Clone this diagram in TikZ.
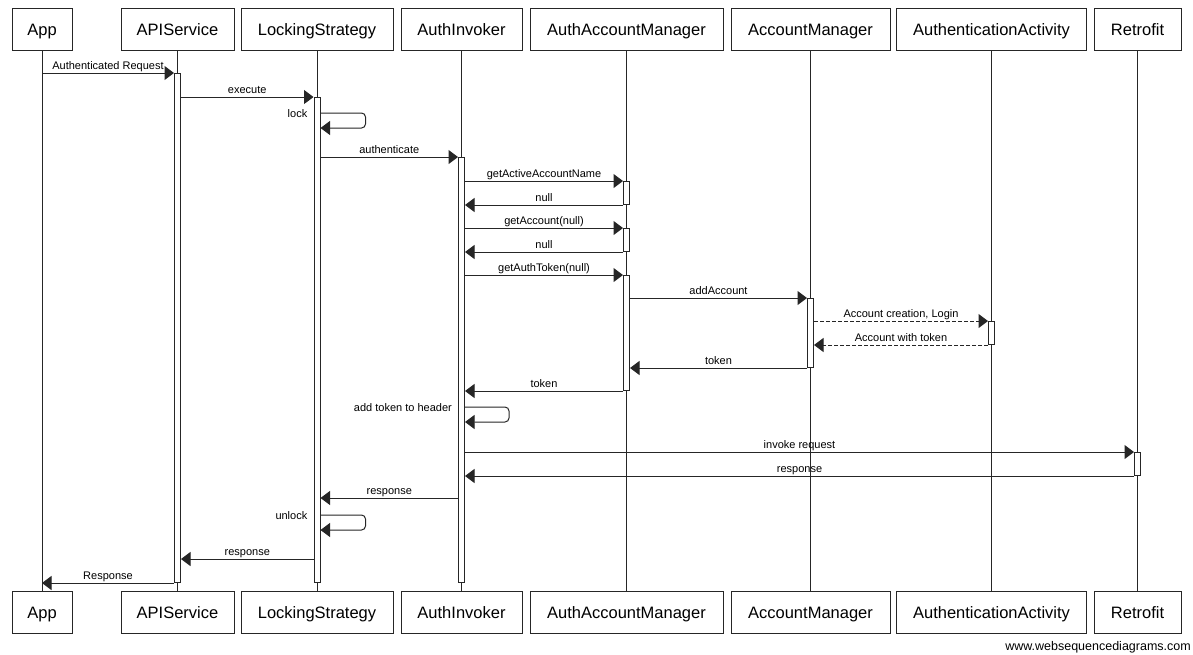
\documentclass[tikz,border=0pt]{standalone}
\usepackage{fontspec}
\setmainfont{Liberation Sans}
\usetikzlibrary{arrows.meta}
\begin{document}
\begin{tikzpicture}[x=1pt,y=-1pt,
  ink/.style={draw=black!85, line width=1pt},
  part/.style={ink, fill=white, minimum height=42pt, inner sep=0pt,
    text height=11.8pt, text depth=0pt, font=\fontsize{16.5}{19}\selectfont},
  life/.style={ink},
  act/.style={ink, fill=white, minimum width=6pt, inner sep=0pt, anchor=north},
  msg/.style={ink, -{Triangle[length=9.5pt,width=14pt]}},
  reply/.style={msg, dash pattern=on 4pt off 2pt},
  lbl/.style={font=\fontsize{11}{13}\selectfont, inner sep=0pt},
  on/.style={lbl, midway, anchor=base, yshift=3.5pt},
  selflbl/.style={lbl, anchor=base east, xshift=-6pt},
]
\fill[white] (0,0) rectangle (1193,654);
\useasboundingbox (0,0) rectangle (1193,654);

% participants, top and bottom
\foreach \n/\x/\w/\t in {App/42/60/App, API/177.5/113/APIService,
    LS/317/152/LockingStrategy, AI/461.5/121/AuthInvoker,
    AAM/626.5/193/AuthAccountManager, AM/810.5/159/AccountManager,
    AA/991.5/190/AuthenticationActivity, R/1137.5/87/Retrofit}{
  \node[part, minimum width=\w pt] (t\n) at (\x,29.5) {\t};
  \node[part, minimum width=\w pt] (b\n) at (\x,612.3) {\t};
  \draw[life] (t\n.south) -- (b\n.north);
}

% activation bars
\node[act, minimum height=509pt] (aAPI)  at (tAPI |- 0,73)  {};
\node[act, minimum height=485pt] (aLS)   at (tLS |- 0,97)   {};
\node[act, minimum height=425pt] (aAI)   at (tAI |- 0,157)  {};
\node[act, minimum height=23pt]  (aAAM1) at (tAAM |- 0,181) {};
\node[act, minimum height=23pt]  (aAAM2) at (tAAM |- 0,228) {};
\node[act, minimum height=115pt] (aAAM3) at (tAAM |- 0,275) {};
\node[act, minimum height=69pt]  (aAM)   at (tAM |- 0,298)  {};
\node[act, minimum height=23pt]  (aAA)   at (tAA |- 0,321)  {};
\node[act, minimum height=23pt]  (aR)    at (tR |- 0,452)   {};

% messages
\draw[msg] (tApp |- aAPI.north) -- node[on]{Authenticated Request} (aAPI.north west);
\draw[msg] (aAPI.east |- aLS.north) -- node[on]{execute} (aLS.north west);
\draw[msg, rounded corners=4pt] (aLS.east |- 0,113) -- ++(45,0) -- ++(0,15) -- (aLS.east |- 0,128);
\node[selflbl] (lLock) at (aLS.west |- 0,117) {lock};
\draw[msg] (aLS.east |- aAI.north) -- node[on]{authenticate} (aAI.north west);
\draw[msg] (aAI.east |- aAAM1.north) -- node[on]{getActiveAccountName} (aAAM1.north west);
\draw[msg] (aAAM1.south west) -- node[on]{null} (aAI.east |- aAAM1.south);
\draw[msg] (aAI.east |- aAAM2.north) -- node[on]{getAccount(null)} (aAAM2.north west);
\draw[msg] (aAAM2.south west) -- node[on]{null} (aAI.east |- aAAM2.south);
\draw[msg] (aAI.east |- aAAM3.north) -- node[on]{getAuthToken(null)} (aAAM3.north west);
\draw[msg] (aAAM3.east |- aAM.north) -- node[on]{addAccount} (aAM.north west);
\draw[reply] (aAM.east |- aAA.north) -- node[on]{Account creation, Login} (aAA.north west);
\draw[reply] (aAA.south west) -- node[on]{Account with token} (aAM.east |- aAA.south);
\draw[msg] (aAM.south west) -- node[on]{token} (aAAM3.east |- aAM.south);
\draw[msg] (aAAM3.south west) -- node[on]{token} (aAI.east |- aAAM3.south);
\draw[msg, rounded corners=4pt] (aAI.east |- 0,407) -- ++(44,0) -- ++(0,15) -- (aAI.east |- 0,422);
\node[selflbl] (lHeader) at (aAI.west |- 0,411) {add token to header};
\draw[msg] (aAI.east |- aR.north) -- node[on]{invoke request} (aR.north west);
\draw[msg] (aR.south west) -- node[on]{response} (aAI.east |- aR.south);
\draw[msg] (aAI.west |- 0,498) -- node[on]{response} (aLS.east |- 0,498);
\draw[msg, rounded corners=4pt] (aLS.east |- 0,515) -- ++(45,0) -- ++(0,15) -- (aLS.east |- 0,530);
\node[selflbl] (lUnlock) at (aLS.west |- 0,519) {unlock};
\draw[msg] (aLS.west |- 0,559) -- node[on]{response} (aAPI.east |- 0,559);
\draw[msg] (aAPI.south west) -- node[on]{Response} (tApp |- aAPI.south);

\node[font=\fontsize{12.5}{15}\selectfont, anchor=base east, inner sep=0pt] (wsd)
  at (1191,650) {www.websequencediagrams.com};
\end{tikzpicture}
\end{document}
